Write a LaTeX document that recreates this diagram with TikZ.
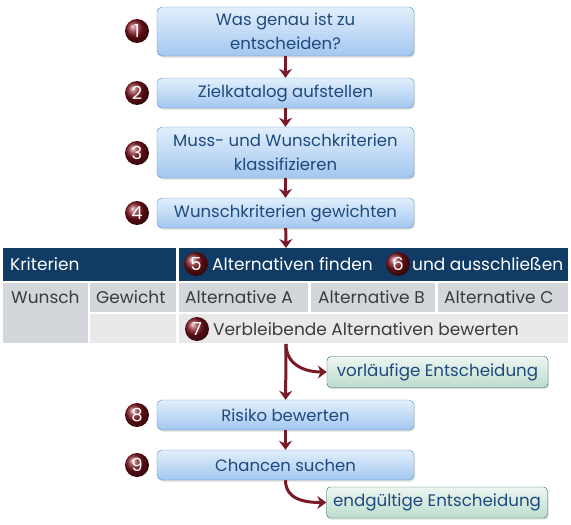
\documentclass[tikz,border=0pt]{standalone}
\usepackage{fontspec}
\setmainfont{Poppins}
\usetikzlibrary{arrows.meta, positioning, shadows}
\definecolor{boxtop}{HTML}{E2EFFC}
\definecolor{boxbot}{HTML}{A2C7EF}
\definecolor{boxline}{HTML}{5C8FC6}
\definecolor{boxtext}{HTML}{1F4A7D}
\definecolor{grtop}{HTML}{EEF6F2}
\definecolor{grbot}{HTML}{BCDCCD}
\definecolor{grline}{HTML}{2E6B5B}
\definecolor{ballred}{HTML}{7E121C}
\definecolor{flowred}{HTML}{7A1A26}
\definecolor{headnavy}{HTML}{0F3B64}
\definecolor{cellgray}{HTML}{D3D6DB}
\definecolor{rowlight}{HTML}{E9E9E9}
\definecolor{celltext}{HTML}{3C3C3C}

\begin{document}
\begin{tikzpicture}[x=1pt, y=-1pt, >={Stealth[length=9pt, width=13pt]},
  stepbox/.style={draw=boxline, rounded corners=5pt, top color=boxtop, bottom color=boxbot,
    text=boxtext, minimum width=257pt, align=center, inner sep=2pt,
    font=\fontsize{16.5}{23.5}\selectfont,
    drop shadow={shadow xshift=1pt, shadow yshift=-1.5pt, opacity=0.25}},
  resbox/.style={draw=grline, rounded corners=4pt, top color=grtop, bottom color=grbot,
    text=boxtext, minimum width=221pt, minimum height=31pt, inner sep=2pt,
    font=\fontsize{16.7}{20}\selectfont,
    drop shadow={shadow xshift=1pt, shadow yshift=-1.5pt, opacity=0.25}},
  numball/.style={circle, shading=ball, ball color=ballred, text=white, minimum size=24pt,
    inner sep=0pt, font=\fontsize{18}{18}\selectfont},
  celltxt/.style={anchor=west, inner sep=0pt, text=celltext, font=\fontsize{17}{20}\selectfont},
  headtxt/.style={anchor=west, inner sep=0pt, text=white, font=\fontsize{17}{20}\selectfont},
  flow/.style={->, draw=flowred, line width=3pt}]
\useasboundingbox (0,0) rectangle (571,525);

% steps 1-4
\node[stepbox, minimum height=49pt] (s1) at (285.5,31.5) {Was genau ist zu\\entscheiden?};
\node[stepbox, minimum height=30pt] (s2) at (285.5,93) {Zielkatalog aufstellen};
\node[stepbox, minimum height=51pt] (s3) at (285.5,152.5) {Muss- und Wunschkriterien\\klassifizieren};
\node[stepbox, minimum height=30pt] (s4) at (285.5,213) {Wunschkriterien gewichten};
\node[numball] (n1) at (137,31) {1};
\node[numball] (n2) at (137,93) {2};
\node[numball] (n3) at (137,153) {3};
\node[numball] (n4) at (137,213) {4};

% table
\fill[headnavy] (3,248) rectangle (176,281);
\fill[headnavy] (179,248) rectangle (568,281);
\fill[cellgray] (3,283) rectangle (88,343);
\fill[cellgray] (90,283) rectangle (176,312);
\fill[cellgray] (179,283) rectangle (308,312);
\fill[cellgray] (311,283) rectangle (435,312);
\fill[cellgray] (438,283) rectangle (568,312);
\fill[rowlight] (90,314) rectangle (176,343);
\fill[rowlight] (179,314) rectangle (568,343);
\node[headtxt] (krit) at (10,264.5) {Kriterien};
\node[numball] (n5) at (196,264) {5};
\node[headtxt] (find) at (212,264.5) {Alternativen finden};
\node[numball] (n6) at (398,264) {6};
\node[headtxt] (excl) at (412,264.5) {und ausschließen};
\node[celltxt] (wunsch) at (11,297.5) {Wunsch};
\node[celltxt] (gew) at (96,297.5) {Gewicht};
\node[celltxt] (altA) at (185,297.5) {Alternative A};
\node[celltxt] (altB) at (318,297.5) {Alternative B};
\node[celltxt] (altC) at (444,297.5) {Alternative C};
\node[numball] (n7) at (197,329) {7};
\node[celltxt] (bew) at (213,329.5) {Verbleibende Alternativen bewerten};
\coordinate (tabtop) at (286,248);
\coordinate (tabbot) at (286,344);

% steps 8-9 and results
\node[resbox] (vorl) at (437.5,372) {vorläufige Entscheidung};
\node[stepbox, minimum height=30pt] (s8) at (285.5,415) {Risiko bewerten};
\node[stepbox, minimum height=30pt] (s9) at (285.5,465) {Chancen suchen};
\node[resbox] (endg) at (437,502.5) {endgültige Entscheidung};
\node[numball] (n8) at (137,415) {8};
\node[numball] (n9) at (137,465) {9};

% arrows
\draw[flow] (s1) -- (s2);
\draw[flow] (s2) -- (s3);
\draw[flow] (s3) -- (s4);
\draw[flow] (s4) -- (tabtop);
\draw[flow] (tabbot) -- (s8);
\draw[flow] (tabbot) to[out=-90, in=180, looseness=1.1] (vorl.west);
\draw[flow] (s8) -- (s9);
\draw[flow] (s9.south) to[out=-90, in=180, looseness=1.1] (endg.west);
\end{tikzpicture}
\end{document}
